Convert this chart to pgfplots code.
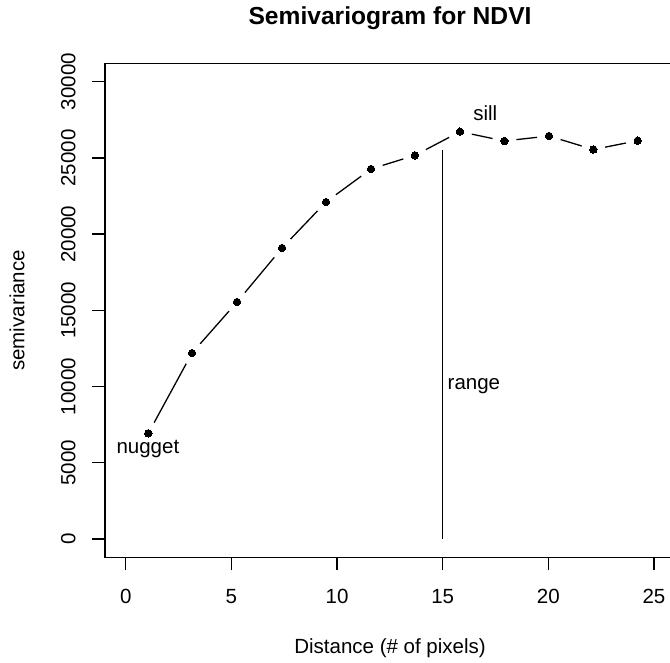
\documentclass[border=0pt]{standalone}
\usepackage{fontspec}
\setmainfont{Liberation Sans}
\usepackage{graphicx}
\usepackage{pgfplots}
\usepackage{pgfplotstable}
\pgfplotsset{compat=1.18}
\pgfplotstableread{
x y
1.07 6934
3.14 12202
5.27 15548
7.40 19091
9.48 22109
11.61 24274
13.69 25170
15.82 26721
17.92 26110
20.03 26438
22.13 25550
24.23 26130
}\semivar
\begin{document}
\begin{tikzpicture}[font=\fontsize{20.5}{24.6}\selectfont]
\begin{axis}[
  at={(105pt,104.7pt)}, anchor=south west,
  scale only axis, width=570.1pt, height=493.9pt,
  xmin=-0.98, xmax=26, ymin=-1200, ymax=31200,
  clip marker paths=true,
  axis line style={line width=1.3pt},
  every tick/.style={black, line width=1.3pt},
  major tick length=13pt,
  tick align=outside,
  xtick pos=bottom, ytick pos=left,
  xtick={0,5,10,15,20,25},
  ytick={0,5000,10000,15000,20000,25000,30000},
  scaled y ticks=false,
  /pgf/number format/1000 sep={},
  /pgf/number format/assume math mode=true,
  xticklabel style={anchor=base, yshift=-32.7pt},
  yticklabel={\rotatebox{90}{\pgfmathprintnumber{\tick}}},
  yticklabel style={anchor=east, inner sep=0pt, xshift=-16.3pt},
  title={Semivariogram for NDVI},
  title style={at={(axis description cs:0.5,1.0665)}, anchor=base, font=\fontsize{24.6}{29.5}\selectfont\bfseries},
  xlabel={Distance (\# of pixels)},
  xlabel style={at={(axis description cs:0.5,-0.1944)}, anchor=base},
  ylabel={semivariance},
  ylabel style={at={(axis description cs:-0.1412,0.5)}, anchor=base, rotate=0},
]
\addplot[black, line width=1.3pt] table[x=x,y=y] {\semivar};
\addplot[only marks, mark=*, mark size=12pt, mark options={draw=white, fill=white}] table[x=x,y=y] {\semivar};
\addplot[only marks, mark=*, mark size=3.7pt, mark options={draw=black, fill=black, line width=0pt}] table[x=x,y=y] {\semivar};
\addplot[black, line width=1.3pt] coordinates {(15,0) (15,25520)};
\addplot[draw=none] coordinates {(1.05,5640)} node[anchor=base, black] {nugget};
\addplot[draw=none] coordinates {(16.48,9820)} node[anchor=base, black] {range};
\addplot[draw=none] coordinates {(17.02,27442)} node[anchor=base, black] {sill};
\end{axis}
\pgfresetboundingbox
\path[use as bounding box] (0,0) rectangle (670pt,662pt);
\end{tikzpicture}
\end{document}
